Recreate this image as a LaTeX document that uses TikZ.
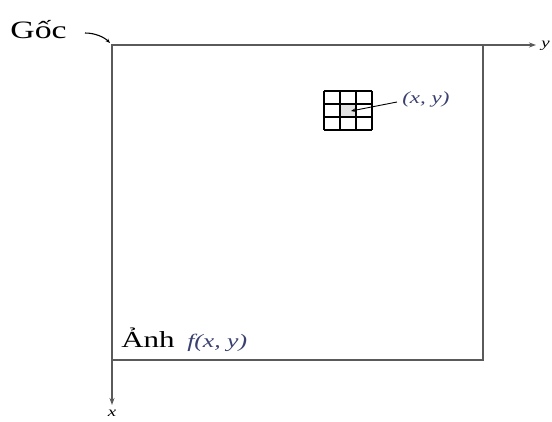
\documentclass[tikz,border=0pt]{standalone}
\usepackage{fontspec}
\setmainfont{Liberation Serif}
\usetikzlibrary{arrows.meta}
\definecolor{axis-gray}{HTML}{5A5A5A}
\definecolor{label-blue}{HTML}{3A4170}
\definecolor{cell-gray}{HTML}{E2E2E2}

\begin{document}
\begin{tikzpicture}[x=1pt, y=-1pt,
        frame/.style={draw=axis-gray, line width=1.6pt},
        axis/.style={frame, -{Stealth[length=7pt, width=5pt]}},
        pointer/.style={black, line width=0.9pt, -{Stealth[length=4.5pt, width=3.5pt]}},
        wide/.style={xscale=1.35, inner sep=0pt}]
      \useasboundingbox (0,0) rectangle (552,421);
      \coordinate (O) at (112,45);
      \coordinate (C) at (483,360);
      \coordinate (Y) at (536,45);
      \coordinate (X) at (112,405);
      % image frame and axes
      \draw[frame] (O) rectangle (C);
      \draw[axis] (O) -- (Y);
      \draw[axis] (O) -- (X);
      \node[wide, anchor=west, font=\itshape\fontsize{14}{14}\selectfont] (ylab) at (541,46) {y};
      \node[wide, anchor=north, font=\itshape\fontsize{14}{14}\selectfont] (xlab) at (112,410) {x};
      % origin label
      \node[wide, anchor=base, font=\fontsize{25}{25}\selectfont] (goc) at (38.5,38) {Gốc};
      \coordinate (gocarr) at (85,33);
      \draw[pointer, line width=1.1pt] (gocarr) .. controls (95,33) and (104,37) .. ([shift={(-2,-2)}]O);
      % neighbourhood of (x,y)
      \fill[cell-gray] (340,104) rectangle (356,117);
      \foreach \i in {0,...,3} {
        \draw[black, line width=1.1pt] (324+16*\i,91) -- (324+16*\i,130);
        \draw[black, line width=1.1pt] (324,91+13*\i) -- (372,91+13*\i);
      }
      \coordinate (cell) at (351,111);
      \node[wide, anchor=west, text=label-blue, font=\itshape\fontsize{17}{17}\selectfont] (xy) at (402,99) {(x, y)};
      \draw[pointer] ([xshift=-5pt, yshift=-3pt]xy.west) -- (cell);
      % image label
      \node[wide, anchor=base west, font=\fontsize{23}{23}\selectfont] (anh) at (121,347) {Ảnh};
      \node[wide, anchor=base west, text=label-blue, font=\itshape\fontsize{19}{19}\selectfont] (fxy) at (187,347) {f(x, y)};
    \end{tikzpicture}
\end{document}
